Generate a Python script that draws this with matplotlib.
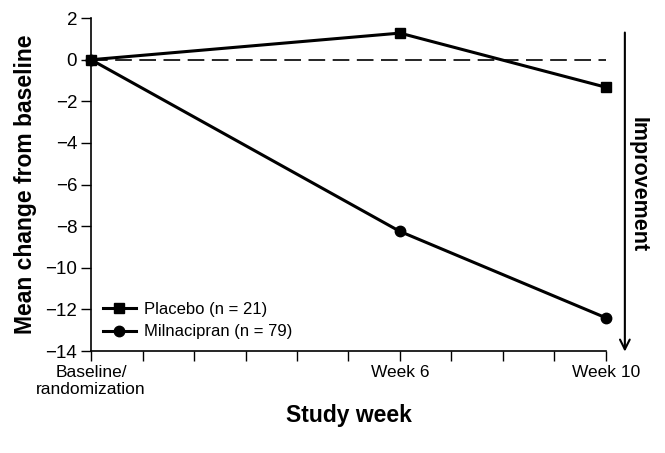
import matplotlib.pyplot as plt

plt.rcParams["font.family"] = ["Liberation Sans", "DejaVu Sans"]

# data
weeks = [0, 6, 10]
placebo = [0.0, 1.28, -1.32]
milnacipran = [0.0, -8.25, -12.4]
xtick_pos = [0, 6, 10]
xtick_labels = ["Baseline/\nrandomization", "Week 6", "Week 10"]
yticks = list(range(-14, 3, 2))

fig = plt.figure(figsize=(6.65, 4.53), dpi=100)
ax = fig.add_axes([0.137, 0.225, 0.774, 0.735])

ax.axhline(0, color="black", lw=1.2, ls=(0, (10, 4.5)), zorder=1)
ax.plot(weeks, placebo, color="black", lw=2.2, marker="s", ms=7,
        label="Placebo (n = 21)", clip_on=False, zorder=3)
ax.plot(weeks, milnacipran, color="black", lw=2.2, marker="o", ms=7.5,
        label="Milnacipran (n = 79)", clip_on=False, zorder=3)

ax.set_xlim(0, 10)
ax.set_ylim(-14, 2)
ax.set_xticks(range(0, 11))
ax.set_xticklabels([xtick_labels[xtick_pos.index(i)] if i in xtick_pos else ""
                    for i in range(0, 11)])
ax.set_yticks(yticks)
ax.set_yticklabels([str(v).replace("-", "\u2212") for v in yticks])
ax.tick_params(direction="out", length=7, width=1, labelsize=12.5, pad=3)
ax.tick_params(axis="y", labelsize=13.5)

for side in ["top", "right"]:
    ax.spines[side].set_visible(False)
for side in ["left", "bottom"]:
    ax.spines[side].set_linewidth(1.2)

ax.set_xlabel("Study week", fontsize=16.5, fontweight="bold", labelpad=5)
ax.set_ylabel("Mean change from baseline", fontsize=16.5, fontweight="bold", labelpad=6)

ax.legend(loc="lower left", bbox_to_anchor=(0.0, 0.0), frameon=False,
          fontsize=12, handlelength=2.0, handletextpad=0.5, labelspacing=0.45,
          borderaxespad=0.3)

# improvement arrow to the right of the plot
ax.annotate("", xy=(1.037, -0.01), xytext=(1.037, 0.965),
            xycoords="axes fraction", textcoords="axes fraction",
            arrowprops=dict(arrowstyle="->,head_length=0.7,head_width=0.35",
                            color="black", lw=1.5),
            annotation_clip=False)
ax.text(1.063, 0.5, "Improvement", transform=ax.transAxes, rotation=-90,
        ha="center", va="center", fontsize=15.5, fontweight="bold")

fig.savefig("out.png", dpi=100)
